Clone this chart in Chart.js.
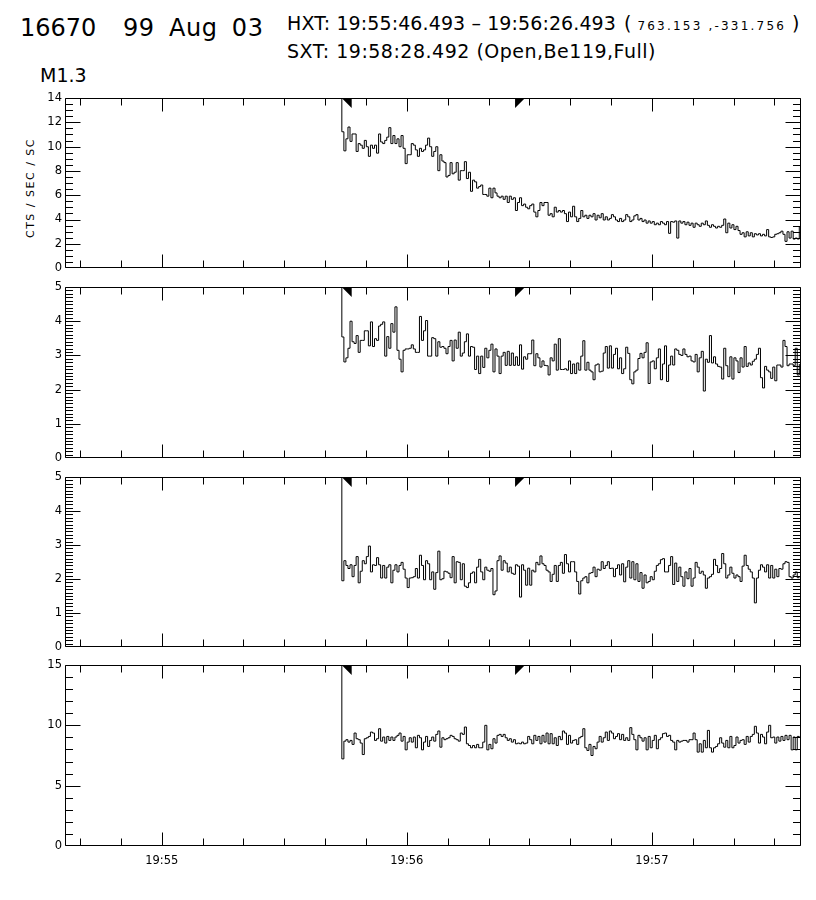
<!DOCTYPE html>
<html><head><meta charset="utf-8">
<script src="https://cdn.jsdelivr.net/npm/chart.js@4/dist/chart.umd.min.js"></script>
<style>
html,body{margin:0;padding:0;background:#fff}
body{width:816px;height:900px;position:relative;overflow:hidden;font-family:"DejaVu Sans",sans-serif;color:#000}
.t{position:absolute;white-space:pre;line-height:1;font-weight:400;color:#000}
canvas{position:absolute;left:0}
</style></head><body>
<div class="t" style="left:20px;top:16.4px;font-size:24px">16670</div>
<div class="t" style="left:123px;top:16.4px;font-size:24px;letter-spacing:0.6px;word-spacing:6px">99 Aug 03</div>
<div class="t" style="left:287px;top:14px;font-size:19px;letter-spacing:0.1px">HXT: 19:55:46.493 – 19:56:26.493</div>
<div class="t" style="left:624px;top:14px;font-size:19px">( <span style="font-size:12px;letter-spacing:2.2px">763.153 ,-331.756</span> )</div>
<div class="t" style="left:287px;top:42.2px;font-size:19px;letter-spacing:0.5px">SXT: 19:58:28.492 (Open,Be119,Full)</div>
<div class="t" style="left:40px;top:66px;font-size:19px">M1.3</div>
<div class="t" style="left:30px;top:187.5px;font-size:11px;letter-spacing:1.5px;transform:translate(-50%,-50%) rotate(-90deg)">CTS / SEC / SC</div>
<script>
// ---- time axis (seconds after 19:55:00 UT) ----
const axisStart = -23.7;
const axisEnd = 156.5;
const binStart = 43.58;      // left edge of first (overflow) bin
const binWidth = 0.5;
const hxtStart = 46.493;     // 19:55:46.493
const hxtEnd = 86.493;       // 19:56:26.493
const xTickValues = [0, 60, 120];
const xTickLabels = ['19:55', '19:56', '19:57'];

// ---- tick labels for each panel ----
const yTicksL = [0, 2, 4, 6, 8, 10, 12, 14];
const yTicksM1 = [0, 1, 2, 3, 4, 5];
const yTicksM2 = [0, 1, 2, 3, 4, 5];
const yTicksH = [0, 5, 10, 15];

// ---- count rates (first bin is off scale) ----
const countsL = [99,
11.22, 9.65, 10.64, 11.61, 10.43, 11.04, 11.04, 9.60, 10.25, 10.12,
9.86, 10.51, 9.99, 9.20, 10.12, 9.86, 10.12, 9.46, 11.04, 10.38,
10.25, 10.51, 10.78, 11.56, 10.25, 10.91, 10.25, 10.64, 9.99, 10.91,
9.86, 8.60, 9.33, 9.33, 10.25, 10.12, 9.73, 9.20, 9.86, 9.60,
9.73, 10.12, 10.70, 9.99, 9.20, 9.60, 9.99, 8.02, 9.33, 8.81,
8.68, 7.50, 7.63, 8.68, 7.76, 7.89, 8.68, 7.24, 8.02,
8.02, 8.76, 7.37, 7.89, 6.32, 7.24, 7.10, 6.58, 6.71, 6.84,
6.06, 6.06, 5.92, 6.58, 5.79, 6.58, 6.19, 5.92, 5.79, 5.92,
5.66, 5.92, 5.40, 5.92, 5.66, 5.79, 4.74, 5.40, 5.79, 5.14,
5.27, 5.01, 4.88, 5.14, 5.27, 4.61, 4.22, 4.74, 5.40,
5.14, 5.40, 5.40, 4.35, 4.48, 4.22, 5.01, 4.61, 4.74, 4.61,
4.74, 4.48, 3.83, 4.61,
4.22, 5.09, 4.22, 3.83, 4.09, 4.74, 4.22, 4.35, 4.09, 4.35,
4.22, 4.48, 3.96, 4.35, 4.14, 4.48, 3.96, 4.22, 3.96, 4.09,
4.40, 4.22, 3.96, 3.83, 4.09, 3.83, 3.96, 4.40, 4.22, 3.83,
3.96, 4.30, 4.40, 3.96, 4.09, 3.83, 3.96, 3.70, 3.88,
3.70, 3.83, 3.57, 3.70, 3.57, 3.83, 3.70, 3.57, 3.83, 2.86,
3.83, 3.78, 3.88, 2.47, 3.88, 3.70, 3.83, 3.57, 3.78, 3.52,
3.70, 3.36, 3.70, 3.57, 3.44, 3.70, 3.57, 3.88, 3.52, 3.36,
3.57, 3.44, 3.30, 3.44, 3.36, 3.52, 4.04, 2.91, 3.70, 3.30,
3.57, 3.17, 3.44, 3.09, 2.78, 2.91, 2.57, 2.99, 2.65,
2.91, 2.57, 2.83, 2.73, 2.83, 2.65, 2.78, 2.65, 3.17, 2.57,
2.52, 2.57, 2.78, 2.83, 2.91, 3.04, 2.78, 2.20, 2.99, 2.47,
3.04, 2.39, 2.47, 2.39, 3.44];

const countsM1 = [99,
3.54, 2.81, 2.93, 3.21, 4.00, 3.40, 3.35, 3.58, 3.09, 3.44,
3.44, 3.72, 3.72, 3.28, 3.98, 3.26, 3.49, 3.44, 3.86, 3.91,
3.98, 2.98, 3.55, 3.21, 3.93, 3.68, 4.42, 3.15, 2.89, 2.52,
3.15, 3.19, 3.19, 3.21, 3.31, 3.19, 3.09, 3.09, 4.14, 3.44,
3.72, 4.02, 2.98, 2.98, 3.52, 3.49, 2.98, 3.40, 3.24, 3.26,
3.21, 3.05, 3.26, 3.44, 2.84, 3.45, 3.21, 3.68, 2.98,
3.07, 3.40, 3.63, 2.98, 3.26, 3.24, 2.59, 2.98, 2.47, 2.98,
2.65, 3.21, 2.93, 3.15, 3.33, 2.52, 3.19, 2.98, 2.47, 2.98,
3.09, 2.71, 3.12, 2.71, 3.07, 2.71, 2.96, 2.71, 3.31, 2.60,
2.96, 2.89, 3.05, 3.05, 3.45, 2.70, 3.05, 2.93, 2.66, 2.84,
2.71, 2.70, 2.43, 2.93, 2.84, 3.33, 2.57, 3.49, 2.59, 2.59,
2.61, 2.57, 2.84,
2.47, 2.75, 2.47, 2.78, 2.57, 2.98, 3.43, 2.57, 2.80, 2.57,
2.52, 2.29, 2.72, 2.75, 2.52, 2.54, 3.07, 3.26, 2.63, 3.28,
2.63, 3.03, 3.21, 2.61, 2.93, 2.47, 2.61, 3.24, 3.06, 2.29,
2.17, 2.52, 2.57, 2.91, 3.06, 2.93, 3.09, 3.37, 2.18,
2.81, 2.84, 2.61, 2.93, 3.19, 2.29, 2.75, 3.28, 2.24, 2.72,
2.98, 2.72, 3.19, 3.15, 3.03, 3.00, 3.19, 3.03, 2.96, 2.98,
2.84, 2.81, 3.03, 2.52, 2.93, 3.12, 1.96, 2.89, 2.80, 3.58,
2.78, 2.96, 2.75, 2.68, 2.66, 2.31, 3.21, 2.70, 2.38, 2.96,
2.31, 2.93, 2.84, 2.50, 2.93, 2.66, 3.26, 2.68, 2.78,
2.72, 2.83, 2.89, 3.03, 3.21, 2.35, 2.05, 2.68, 2.57, 2.52,
2.33, 2.66, 2.26, 2.72, 2.72, 2.66, 3.44, 3.26, 2.70, 2.75,
2.75, 2.70, 3.21, 2.43, 2.75];

const countsM2 = [99,
1.95, 2.54, 2.40, 2.31, 2.42, 2.07, 2.40, 2.66, 1.89, 2.23,
2.54, 2.45, 2.66, 2.97, 2.21, 2.42, 2.40, 2.63, 2.42, 2.03,
2.40, 2.03, 2.35, 2.42, 1.89, 2.26, 2.42, 2.21, 2.40, 2.49,
2.29, 2.03, 1.75, 2.03, 2.04, 2.07, 2.31, 2.03, 2.70,
2.40, 1.98, 2.54, 2.45, 1.98, 2.21, 1.70, 2.19, 2.82, 1.98,
2.01, 2.23, 2.21, 2.17, 2.04, 2.66, 1.89, 2.51, 2.49, 1.98,
2.45, 1.79, 1.75, 1.89, 2.17, 2.21, 1.89, 2.35, 2.58, 2.21,
1.98, 2.35, 2.26, 2.23, 2.31, 1.54, 1.65, 2.54, 2.68, 2.26,
2.54, 2.47, 2.21, 2.35, 2.17, 2.14, 2.42, 2.38, 1.47,
2.42, 2.26, 1.82, 2.32, 1.82, 2.26, 2.21, 2.49, 2.42, 2.68,
2.45, 2.40, 2.26, 2.21, 1.93, 2.14, 2.40, 1.93, 2.40, 2.49,
2.17, 2.72, 2.45, 2.21,
2.51, 2.51, 2.21, 1.93, 1.56, 1.95, 2.03, 2.07, 1.89,
2.17, 2.19, 2.35, 2.07, 2.29, 2.26, 2.51, 2.31, 2.40, 2.51,
2.31, 2.32, 2.07, 2.31, 2.42, 2.12, 2.45, 1.92, 2.35, 2.54,
2.03, 2.51, 1.98, 2.45, 1.93, 2.19, 1.73, 2.12, 1.89, 1.93,
2.07, 1.98, 2.23, 2.40, 2.45, 2.57, 2.60, 2.21, 2.21, 2.40,
2.66, 1.84, 2.47, 1.93, 2.35, 2.07, 1.79, 2.21, 2.01, 2.31,
1.79, 2.03, 2.49, 2.35, 2.17, 2.23, 2.12, 1.73, 2.03,
2.07, 2.14, 2.58, 2.40, 2.19, 2.31, 2.75, 2.45, 2.03, 2.12,
2.35, 2.17, 2.03, 2.12, 2.07, 1.93, 2.38, 2.70, 2.40, 2.29,
2.21, 2.03, 1.30, 2.03, 2.26, 2.42, 2.35, 2.21, 2.42, 2.03,
2.40, 2.03, 2.29, 2.07, 2.31, 2.29, 2.45, 2.51, 2.49, 2.07,
2.03, 2.12, 2.21, 2.04, 2.03];

const countsH = [99,
7.22, 8.69, 8.81, 8.61, 8.75, 8.42, 9.36, 8.89, 8.81, 8.53,
7.58, 8.89, 8.97, 9.08, 9.44, 9.36, 8.75, 8.89, 9.72,
8.69, 9.03, 8.53, 9.08, 8.75, 9.03, 8.75, 9.03, 9.17, 9.36,
8.69, 9.08, 7.97, 8.61, 8.97, 8.61, 9.03, 8.14, 9.17, 8.97,
7.97, 8.61, 9.08, 8.25, 8.75, 9.03, 8.69, 9.25, 9.53, 8.19,
8.97, 8.81, 8.89, 8.97, 9.17, 9.08, 8.89, 8.81, 8.69, 9.36,
9.25, 9.86, 8.47, 8.33, 8.14, 8.33, 8.14, 8.42, 8.14, 8.14,
8.61, 10.00, 7.97, 8.42, 8.06, 8.89, 8.53, 9.17, 9.25, 9.08,
9.25, 8.97, 8.75, 8.89, 8.61, 8.81, 8.47, 8.53, 8.47,
8.61, 8.47, 8.53, 9.08, 8.81, 8.47, 9.17, 8.75, 9.08, 8.47,
9.17, 8.61, 9.36, 8.47, 9.31, 8.47, 8.97, 8.33, 9.08, 8.81,
9.53, 9.36, 8.42, 9.17,
8.53, 8.75, 8.81, 8.42, 8.97, 9.08, 9.72, 8.14, 7.92, 8.42,
7.50, 8.25, 8.06, 8.61, 9.08, 8.61, 8.97, 9.44, 8.75, 9.53,
9.36, 8.89, 9.08, 9.31, 8.81, 9.25, 8.75, 8.97, 8.75,
9.81, 9.25, 8.81, 7.97, 9.17, 8.97, 8.69, 8.97, 7.97, 9.08,
8.14, 8.75, 9.17, 8.06, 8.81, 8.97, 9.31, 9.36, 9.08, 9.17,
8.75, 8.61, 7.97, 8.75, 8.61, 8.69, 8.75, 8.75, 8.61,
8.81, 8.81, 9.36, 8.81, 7.78, 8.47, 7.78, 8.75, 8.14, 9.58,
8.14, 7.78, 8.14, 8.25, 8.47, 8.97, 8.53, 8.19, 8.75, 8.14,
9.08, 8.14, 8.33, 9.03, 8.53, 8.75, 8.81, 8.42, 9.08, 8.61,
9.08, 9.25, 9.92, 9.36, 8.53, 9.25, 9.03, 8.47, 9.44, 10.00,
8.97, 9.03, 8.53, 9.03, 8.69, 9.08, 8.75, 9.17, 8.81, 9.17,
7.97, 9.03, 7.97, 9.08, 9.03];

// ---- IDL-style frame, inward ticks and HXT interval flags ----
const idlFrame = {
  id: 'idlFrame',
  afterDatasetsDraw(chart, args, o) {
    const {ctx, chartArea: a, scales: {x, y}} = chart;
    const L = Math.round(a.left), R = Math.round(a.right) - 1;
    const T = Math.round(a.top), B = Math.round(a.bottom) - 1;
    ctx.save();
    ctx.strokeStyle = '#000';
    ctx.lineWidth = 1;
    ctx.beginPath();
    ctx.rect(L + 0.5, T + 0.5, R - L, B - T);
    for (let t = Math.ceil(axisStart / 10) * 10; t <= axisEnd; t += 10) {
      const px = Math.round(x.getPixelForValue(t)) + 0.5;
      const len = (t % 60 === 0) ? 13 : 7;
      ctx.moveTo(px, B + 0.5); ctx.lineTo(px, B + 0.5 - len);
      ctx.moveTo(px, T + 0.5); ctx.lineTo(px, T + 0.5 + len);
    }
    const n = Math.round(o.yMax / o.yMinor);
    for (let i = 0; i <= n; i++) {
      const v = i * o.yMinor;
      const major = o.yMajor.some(m => Math.abs(m - v) < 1e-6);
      let py = Math.round(y.getPixelForValue(v)) + 0.5;
      py = Math.min(Math.max(py, T + 0.5), B + 0.5);
      const len = major ? 15 : 7.5;
      ctx.moveTo(L + 0.5, py); ctx.lineTo(L + 0.5 + len, py);
      ctx.moveTo(R + 0.5, py); ctx.lineTo(R + 0.5 - len, py);
    }
    ctx.stroke();
    ctx.fillStyle = '#000';
    const fa = x.getPixelForValue(hxtStart), fb = x.getPixelForValue(hxtEnd);
    ctx.beginPath();
    ctx.moveTo(fa - 10, T); ctx.lineTo(fa, T); ctx.lineTo(fa, T + 10); ctx.closePath(); ctx.fill();
    ctx.beginPath();
    ctx.moveTo(fb, T); ctx.lineTo(fb + 10, T); ctx.lineTo(fb, T + 10); ctx.closePath(); ctx.fill();
    ctx.restore();
  }
};

const panels = [
  {data: countsL,  top: 98,  bottom: 278, yMax: 14, yMajor: yTicksL,  yMinor: 0.5},
  {data: countsM1, top: 287, bottom: 468, yMax: 5,  yMajor: yTicksM1, yMinor: 0.1},
  {data: countsM2, top: 477, bottom: 657, yMax: 5,  yMajor: yTicksM2, yMinor: 0.1},
  {data: countsH,  top: 665, bottom: 846, yMax: 15, yMajor: yTicksH,  yMinor: 1}
];

panels.forEach((p, idx) => {
  const last = idx === panels.length - 1;
  const padTop = 10, extra = last ? 32 : 0;
  const cv = document.createElement('canvas');
  cv.width = 816;
  cv.height = p.bottom - p.top + padTop + extra;
  cv.style.top = (p.top - padTop) + 'px';
  document.body.appendChild(cv);
  new Chart(cv, {
    type: 'line',
    data: {datasets: [{
      data: p.data.map((v, i) => ({x: binStart + i * binWidth, y: v})),
      borderColor: '#000', borderWidth: 1, pointRadius: 0,
      stepped: 'before', fill: false, tension: 0
    }]},
    options: {
      responsive: false, animation: false, events: [],
      layout: {padding: {left: 0, right: 15, top: padTop, bottom: 0}},
      plugins: {legend: {display: false}, tooltip: {enabled: false},
        idlFrame: {yMax: p.yMax, yMajor: p.yMajor, yMinor: p.yMinor}},
      scales: {
        x: {
          type: 'linear', min: axisStart, max: axisEnd, display: last,
          grid: {display: false, drawTicks: false}, border: {display: false},
          afterBuildTicks: s => { s.ticks = xTickValues.map(v => ({value: v})); },
          afterFit: s => { s.height = extra; },
          ticks: {autoSkip: false, maxRotation: 0, padding: 8, color: '#000',
            font: {family: 'DejaVu Sans', size: 11.5},
            callback: v => { const k = xTickValues.indexOf(v); return k >= 0 ? xTickLabels[k] : ''; }}
        },
        y: {
          type: 'linear', min: 0, max: p.yMax,
          grid: {display: false, drawTicks: false}, border: {display: false},
          afterBuildTicks: s => { s.ticks = p.yMajor.map(v => ({value: v})); },
          afterFit: s => { s.width = 65; },
          ticks: {autoSkip: false, padding: 3, color: '#000',
            font: {family: 'DejaVu Sans', size: 11.5}}
        }
      }
    },
    plugins: [idlFrame]
  });
});
</script>
</body></html>
